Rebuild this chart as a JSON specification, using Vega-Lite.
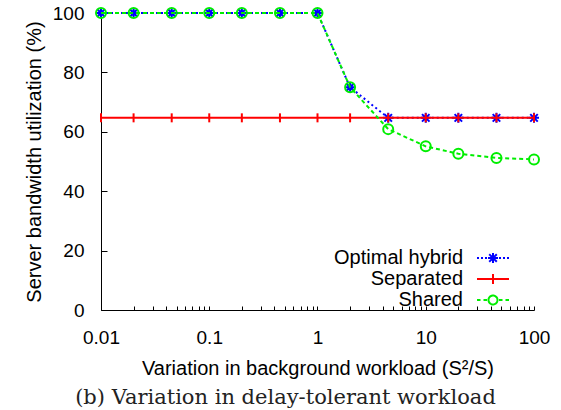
{
  "$schema": "https://vega.github.io/schema/vega-lite/v6.json",
  "width": 433,
  "height": 297,
  "autosize": "none",
  "padding": {"left": 101, "top": 13, "right": 27, "bottom": 100},
  "background": "white",
  "title": {
    "text": "(b) Variation in delay-tolerant workload",
    "orient": "bottom",
    "anchor": "middle",
    "frame": "group",
    "font": "DejaVu Serif",
    "fontSize": 21,
    "fontWeight": "normal",
    "color": "#222222",
    "offset": 9,
    "dx": -32
  },
  "config": {
    "view": {"stroke": null},
    "font": "Liberation Sans",
    "axis": {
      "grid": false,
      "domainColor": "black",
      "tickColor": "black",
      "labelColor": "black",
      "titleColor": "black",
      "labelFont": "Liberation Sans",
      "titleFont": "Liberation Sans",
      "labelFontSize": 19,
      "titleFontSize": 20,
      "titleFontWeight": "normal"
    }
  },
  "data": {
    "values": [
      {"x": 0.01, "series": "Optimal hybrid", "y": 100},
      {"x": 0.02, "series": "Optimal hybrid", "y": 100},
      {"x": 0.045, "series": "Optimal hybrid", "y": 100},
      {"x": 0.1, "series": "Optimal hybrid", "y": 100},
      {"x": 0.2, "series": "Optimal hybrid", "y": 100},
      {"x": 0.45, "series": "Optimal hybrid", "y": 100},
      {"x": 1, "series": "Optimal hybrid", "y": 100},
      {"x": 2, "series": "Optimal hybrid", "y": 75},
      {"x": 4.5, "series": "Optimal hybrid", "y": 64.7},
      {"x": 10, "series": "Optimal hybrid", "y": 64.7},
      {"x": 20, "series": "Optimal hybrid", "y": 64.7},
      {"x": 45, "series": "Optimal hybrid", "y": 64.7},
      {"x": 100, "series": "Optimal hybrid", "y": 64.7},
      {"x": 0.01, "series": "Separated", "y": 64.7},
      {"x": 0.02, "series": "Separated", "y": 64.7},
      {"x": 0.045, "series": "Separated", "y": 64.7},
      {"x": 0.1, "series": "Separated", "y": 64.7},
      {"x": 0.2, "series": "Separated", "y": 64.7},
      {"x": 0.45, "series": "Separated", "y": 64.7},
      {"x": 1, "series": "Separated", "y": 64.7},
      {"x": 2, "series": "Separated", "y": 64.7},
      {"x": 4.5, "series": "Separated", "y": 64.7},
      {"x": 10, "series": "Separated", "y": 64.7},
      {"x": 20, "series": "Separated", "y": 64.7},
      {"x": 45, "series": "Separated", "y": 64.7},
      {"x": 100, "series": "Separated", "y": 64.7},
      {"x": 0.01, "series": "Shared", "y": 100},
      {"x": 0.02, "series": "Shared", "y": 100},
      {"x": 0.045, "series": "Shared", "y": 100},
      {"x": 0.1, "series": "Shared", "y": 100},
      {"x": 0.2, "series": "Shared", "y": 100},
      {"x": 0.45, "series": "Shared", "y": 100},
      {"x": 1, "series": "Shared", "y": 100},
      {"x": 2, "series": "Shared", "y": 75},
      {"x": 4.5, "series": "Shared", "y": 60.9},
      {"x": 10, "series": "Shared", "y": 55.1},
      {"x": 20, "series": "Shared", "y": 52.6},
      {"x": 45, "series": "Shared", "y": 51.2},
      {"x": 100, "series": "Shared", "y": 50.7}
    ]
  },
  "encoding": {
    "x": {
      "field": "x",
      "type": "quantitative",
      "scale": {"type": "log", "domain": [0.01, 100], "nice": false},
      "axis": {
        "title": "Variation in background workload (S²/S)",
        "values": [0.01, 0.02, 0.03, 0.04, 0.05, 0.06, 0.07, 0.08, 0.09, 0.1, 0.2, 0.3, 0.4, 0.5, 0.6, 0.7, 0.8, 0.9, 1, 2, 3, 4, 5, 6, 7, 8, 9, 10, 20, 30, 40, 50, 60, 70, 80, 90, 100],
        "labelExpr": "abs(log(datum.value)/LN10 - round(log(datum.value)/LN10)) < 0.000001 ? datum.value : ''",
        "labelFlush": false,
        "labelOverlap": false,
        "tickSize": -4,
        "labelPadding": 22,
        "titlePadding": 11,
        "encode": {
          "ticks": {
            "update": {
              "y2": {"signal": "abs(log(datum.value)/LN10 - round(log(datum.value)/LN10)) < 0.000001 ? -7 : -4"}
            }
          }
        }
      }
    },
    "y": {
      "field": "y",
      "type": "quantitative",
      "scale": {"domain": [0, 100], "nice": false},
      "axis": {
        "title": "Server bandwidth utilization (%)",
        "values": [0, 20, 40, 60, 80, 100],
        "tickSize": -6,
        "labelPadding": 23,
        "titlePadding": 8
      }
    },
    "color": {
      "field": "series",
      "type": "nominal",
      "scale": {"domain": ["Optimal hybrid", "Separated", "Shared"], "range": ["#0000ff", "#ff0000", "#00ee00"]},
      "legend": {
        "title": null,
        "orient": "none",
        "legendX": 381,
        "legendY": 234,
        "padding": 0,
        "labelAlign": "right",
        "labelOffset": -41,
        "labelFont": "Liberation Sans",
        "labelFontSize": 20,
        "labelColor": "black",
        "labelLimit": 300,
        "rowPadding": -8,
        "symbolSize": 400,
        "symbolStrokeWidth": 2,
        "symbolFillColor": "transparent",
        "encode": {
          "symbols": {
            "update": {
              "shape": {"signal": "datum.value === 'Optimal hybrid' ? 'M-1.6,0L-1.4,0M-1.2,0L-1,0M-0.8,0L-0.6,0M0.6,0L0.8,0M1,0L1.2,0M1.4,0L1.6,0M-0.5,0L0.5,0M0,-0.5L0,0.5M-0.38,-0.38L0.38,0.38M-0.38,0.38L0.38,-0.38' : datum.value === 'Separated' ? 'M-1.6,0L1.6,0M0,-0.5L0,0.5' : 'M-1.6,0L-1.25,0M-0.95,0L-0.6,0M0.6,0L0.95,0M1.25,0L1.6,0M-0.45,0A0.45,0.45 0 1,0 0.45,0A0.45,0.45 0 1,0 -0.45,0'"},
              "fill": {"value": "transparent"},
              "strokeDash": {"value": [1, 0]},
              "strokeWidth": {"value": 2}
            }
          }
        }
      }
    }
  },
  "layer": [
    {
      "transform": [{"filter": "datum.series === 'Optimal hybrid'"}],
      "mark": {"type": "line", "strokeWidth": 2, "strokeDash": [2, 3], "clip": false}
    },
    {
      "transform": [{"filter": "datum.series === 'Optimal hybrid'"}],
      "mark": {"type": "point", "filled": false, "strokeWidth": 2, "size": 100, "opacity": 1, "clip": false, "shape": "M-1,0L1,0M-0.75,-0.75L0.75,0.75M-0.75,0.75L0.75,-0.75M0,-1L0,1"}
    },
    {
      "transform": [{"filter": "datum.series === 'Separated'"}],
      "mark": {"type": "line", "strokeWidth": 2, "clip": false}
    },
    {
      "transform": [{"filter": "datum.series === 'Separated'"}],
      "mark": {"type": "point", "filled": false, "strokeWidth": 2, "size": 100, "opacity": 1, "clip": false, "shape": "M0,-0.9L0,0.9"}
    },
    {
      "transform": [{"filter": "datum.series === 'Shared'"}],
      "mark": {"type": "line", "strokeWidth": 2, "strokeDash": [4, 3], "clip": false}
    },
    {
      "transform": [{"filter": "datum.series === 'Shared'"}],
      "mark": {"type": "point", "filled": false, "strokeWidth": 2, "size": 100, "opacity": 1, "clip": false, "shape": "circle"}
    }
  ]
}
